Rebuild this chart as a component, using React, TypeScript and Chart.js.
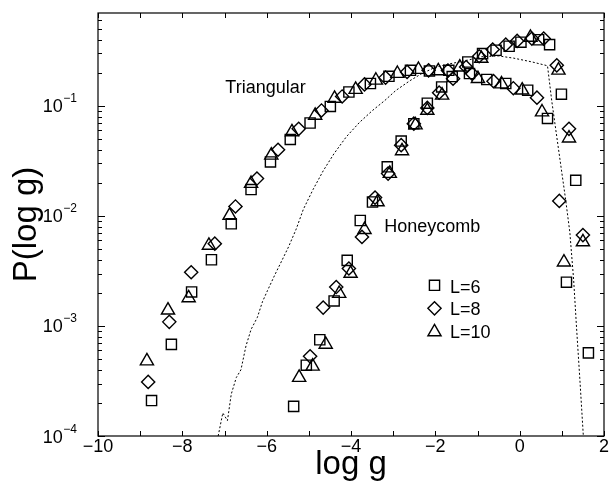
import React, { useEffect, useRef } from 'react';
import { Chart, registerables } from 'chart.js';

Chart.register(...registerables);

// ---------- data ----------
const X_TICKS = [-10, -8, -6, -4, -2, 0, 2];
const X_MINOR = [-10, -9, -8, -7, -6, -5, -4, -3, -2, -1, 0, 1, 2];
const Y_DECADES = [1e-4, 1e-3, 1e-2, 1e-1];
const Y_DECADE_EXP = ['−4', '−3', '−2', '−1'];
const Y_MIN = 1e-4;
const Y_MAX = 0.7;

// Triangular lattice
const TRI_L6_X = [-8.73, -8.26, -7.78, -7.31, -6.84, -6.37, -5.91, -5.44, -4.97, -4.49, -4.05, -3.54, -3.1, -2.59, -2.14, -1.68, -1.23, -0.88, -0.56, -0.25, 0.03, 0.45, 0.71, 0.99, 1.33, 1.63];
const TRI_L6_Y = [2.1e-4, 6.8e-4, 2.04e-3, 4.0e-3, 8.5e-3, 0.0174, 0.031, 0.0496, 0.07, 0.099, 0.134, 0.16, 0.186, 0.211, 0.208, 0.211, 0.251, 0.299, 0.321, 0.349, 0.38, 0.4, 0.361, 0.128, 0.0211, 5.7e-4];
const TRI_L8_X = [-8.81, -8.31, -7.79, -7.23, -6.74, -6.23, -5.73, -5.24, -4.7, -4.21, -3.68, -3.18, -2.67, -2.16, -1.7, -1.27, -0.96, -0.64, -0.33, -0.06, 0.29, 0.57, 0.88, 1.17, 1.5];
const TRI_L8_Y = [3.1e-4, 1.09e-3, 3.08e-3, 5.6e-3, 0.0122, 0.0219, 0.04, 0.062, 0.091, 0.122, 0.157, 0.181, 0.204, 0.211, 0.21, 0.226, 0.283, 0.326, 0.361, 0.39, 0.41, 0.41, 0.234, 0.062, 6.7e-3];
const TRI_L10_X = [-8.84, -8.34, -7.85, -7.37, -6.88, -6.37, -5.89, -5.4, -4.85, -4.39, -3.89, -3.41, -2.9, -2.4, -1.93, -1.42, -0.91, 0.255, 0.92, 1.17, 1.5];
const TRI_L10_Y = [4.8e-4, 1.39e-3, 1.8e-3, 5.4e-3, 0.0101, 0.0197, 0.0356, 0.058, 0.082, 0.117, 0.141, 0.171, 0.197, 0.214, 0.208, 0.225, 0.27, 0.419, 0.211, 0.051, 5.8e-3];

// Honeycomb lattice
const HON_L6_X = [-5.36, -5.06, -4.74, -4.4, -4.09, -3.78, -3.49, -3.14, -2.81, -2.51, -2.19, -1.85, -1.6, -1.19, -0.78, -0.33, 0.19, 0.66, 1.11];
const HON_L6_Y = [1.86e-4, 4.4e-4, 7.5e-4, 1.69e-3, 3.95e-3, 9.1e-3, 0.0134, 0.028, 0.048, 0.069, 0.106, 0.149, 0.185, 0.197, 0.174, 0.16, 0.139, 0.077, 2.5e-3];
const HON_L8_X = [-4.97, -4.66, -4.35, -4.05, -3.74, -3.43, -3.12, -2.81, -2.51, -2.19, -1.91, -1.58, -1.13, -0.62, -0.15, 0.41, 0.94];
const HON_L8_Y = [5.3e-4, 1.47e-3, 2.26e-3, 3.33e-3, 6.45e-3, 0.0147, 0.0243, 0.044, 0.069, 0.096, 0.132, 0.177, 0.197, 0.168, 0.145, 0.119, 0.0137];
const HON_L10_X = [-5.23, -4.91, -4.6, -4.28, -4.01, -3.68, -3.37, -3.08, -2.79, -2.47, -2.19, -1.84, -0.99, -0.43, 0.06, 0.53, 1.05];
const HON_L10_Y = [3.4e-4, 4.3e-4, 6.8e-4, 1.97e-3, 3.0e-3, 7.5e-3, 0.0134, 0.0243, 0.039, 0.067, 0.091, 0.125, 0.177, 0.158, 0.139, 0.088, 3.8e-3];

// dotted reference curve
const CURVE_X = [-7.15, -7.04, -6.93, -6.84, -6.72, -6.61, -6.49, -6.37, -6.22, -6.1, -5.98, -5.8, -5.63, -5.48, -5.3, -5.13, -4.9, -4.66, -4.4, -4.11, -3.8, -3.49, -3.2, -2.94, -2.6, -2.32, -2.01, -1.7, -1.3, -0.91, -0.5, -0.14, 0.3, 0.66, 0.76, 0.88, 0.99, 1.09, 1.19, 1.28, 1.35, 1.43, 1.51];
const CURVE_Y = [1.0e-4, 1.62e-4, 1.38e-4, 2.4e-4, 3.4e-4, 4.0e-4, 6.6e-4, 9.3e-4, 1.2e-3, 1.66e-3, 2.1e-3, 2.95e-3, 4.0e-3, 5.25e-3, 7.6e-3, 0.0115, 0.0174, 0.0257, 0.037, 0.0525, 0.0708, 0.091, 0.112, 0.138, 0.17, 0.197, 0.224, 0.24, 0.257, 0.28, 0.285, 0.272, 0.251, 0.232, 0.112, 0.0525, 0.0263, 0.0141, 7.1e-3, 2.63e-3, 9.5e-4, 3.16e-4, 1.0e-4];

const LEGEND_LABELS = ['L=6', 'L=8', 'L=10'];
const LATTICE_LABELS = ['Triangular', 'Honeycomb'];

const FONT = '"Liberation Sans", Arial, Helvetica, sans-serif';

const pts = (xs: number[], ys: number[]) => xs.map((x, i) => ({ x, y: ys[i] }));
const fmtX = (v: number) => (v < 0 ? '−' + Math.abs(v) : String(v));

type Shape = 'rect' | 'rectRot' | 'triangle';
const RADIUS: Record<Shape, number> = { rect: 7.2, rectRot: 6.6, triangle: 7.6 };

function markerSet(label: string, xs: number[], ys: number[], shape: Shape) {
  return {
    label,
    data: pts(xs, ys),
    showLine: false,
    pointStyle: shape,
    pointRadius: RADIUS[shape],
    pointHoverRadius: RADIUS[shape],
    pointBorderColor: '#000',
    pointBackgroundColor: 'rgba(0,0,0,0)',
    pointBorderWidth: 1.4,
    borderColor: '#000',
    backgroundColor: 'rgba(0,0,0,0)',
  };
}

function drawShape(ctx: CanvasRenderingContext2D, shape: Shape, x: number, y: number) {
  const r = RADIUS[shape];
  ctx.beginPath();
  if (shape === 'rect') {
    const s = r * Math.SQRT1_2;
    ctx.rect(x - s, y - s, 2 * s, 2 * s);
  } else if (shape === 'rectRot') {
    ctx.moveTo(x - r, y);
    ctx.lineTo(x, y - r);
    ctx.lineTo(x + r, y);
    ctx.lineTo(x, y + r);
    ctx.closePath();
  } else {
    for (let k = 0; k < 3; k++) {
      const a = (k * 2 * Math.PI) / 3;
      const px = x + Math.sin(a) * r;
      const py = y - Math.cos(a) * r;
      if (k === 0) ctx.moveTo(px, py);
      else ctx.lineTo(px, py);
    }
    ctx.closePath();
  }
  ctx.stroke();
}

const framePlugin = {
  id: 'frameAndText',
  afterDraw(chart: any) {
    const { ctx, chartArea: a, scales } = chart;
    const xs = scales.x;
    const ys = scales.y;
    ctx.save();
    ctx.strokeStyle = '#000';
    ctx.fillStyle = '#000';
    ctx.lineWidth = 1.2;
    ctx.strokeRect(a.left, a.top, a.right - a.left, a.bottom - a.top);

    // x ticks (inward, bottom and top)
    ctx.lineWidth = 1;
    ctx.beginPath();
    for (const v of X_MINOR) {
      const px = Math.round(xs.getPixelForValue(v)) + 0.5;
      const len = 5;
      ctx.moveTo(px, a.bottom);
      ctx.lineTo(px, a.bottom - len);
      ctx.moveTo(px, a.top);
      ctx.lineTo(px, a.top + len);
    }
    // y ticks (log, inward, left and right)
    for (const d of Y_DECADES) {
      for (let m = 1; m <= 9; m++) {
        const v = m * d;
        if (v < Y_MIN || v > Y_MAX) continue;
        const py = Math.round(ys.getPixelForValue(v)) + 0.5;
        const len = m === 1 ? 7 : 4;
        ctx.moveTo(a.left, py);
        ctx.lineTo(a.left + len, py);
        ctx.moveTo(a.right, py);
        ctx.lineTo(a.right - len, py);
      }
    }
    ctx.stroke();

    // x tick labels
    ctx.textBaseline = 'alphabetic';
    ctx.textAlign = 'center';
    ctx.font = `18px ${FONT}`;
    for (const v of X_TICKS) {
      ctx.fillText(fmtX(v), xs.getPixelForValue(v), a.bottom + 16);
    }

    // y tick labels 10^n
    ctx.textAlign = 'right';
    const rightEdge = a.left - 21;
    Y_DECADES.forEach((d, i) => {
      const py = ys.getPixelForValue(d);
      ctx.font = `12px ${FONT}`;
      const supW = ctx.measureText(Y_DECADE_EXP[i]).width;
      ctx.fillText(Y_DECADE_EXP[i], rightEdge, py - 3.5);
      ctx.font = `18px ${FONT}`;
      ctx.fillText('10', rightEdge - supW - 0.5, py + 6.5);
    });

    // lattice labels
    ctx.textAlign = 'left';
    ctx.font = `18px ${FONT}`;
    ctx.fillText(LATTICE_LABELS[0], xs.getPixelForValue(-6.98), ys.getPixelForValue(0.132));
    ctx.fillText(LATTICE_LABELS[1], xs.getPixelForValue(-3.21), ys.getPixelForValue(0.0072));

    // legend
    const shapes: Shape[] = ['rect', 'rectRot', 'triangle'];
    const lx = 434.5;
    const rows = [285.3, 308.3, 332];
    const base = [292.5, 315, 337.5];
    ctx.lineWidth = 1.4;
    shapes.forEach((s, i) => {
      drawShape(ctx, s, lx, rows[i]);
      ctx.fillText(LEGEND_LABELS[i], 450, base[i]);
    });
    ctx.restore();
  },
};

export default function App() {
  const ref = useRef<HTMLCanvasElement | null>(null);

  useEffect(() => {
    if (!ref.current) return;
    const chart = new Chart(ref.current, {
      type: 'scatter',
      data: {
        datasets: [
          markerSet('Triangular L=6', TRI_L6_X, TRI_L6_Y, 'rect'),
          markerSet('Triangular L=8', TRI_L8_X, TRI_L8_Y, 'rectRot'),
          markerSet('Triangular L=10', TRI_L10_X, TRI_L10_Y, 'triangle'),
          markerSet('Honeycomb L=6', HON_L6_X, HON_L6_Y, 'rect'),
          markerSet('Honeycomb L=8', HON_L8_X, HON_L8_Y, 'rectRot'),
          markerSet('Honeycomb L=10', HON_L10_X, HON_L10_Y, 'triangle'),
          {
            label: 'curve',
            data: pts(CURVE_X, CURVE_Y),
            showLine: true,
            borderColor: '#000',
            borderWidth: 1,
            borderDash: [2, 2],
            pointRadius: 0,
            pointHoverRadius: 0,
            fill: false,
            tension: 0,
          } as any,
        ],
      },
      options: {
        animation: false,
        responsive: false,
        events: [],
        layout: { padding: { left: 0, right: 2, top: 13, bottom: 0 } },
        plugins: {
          legend: { display: false },
          tooltip: { enabled: false },
        },
        scales: {
          x: {
            type: 'linear',
            min: -10,
            max: 2,
            grid: { display: false, drawTicks: false },
            border: { display: false },
            ticks: { display: false },
            afterBuildTicks: (s: any) => {
              s.ticks = X_TICKS.map((v) => ({ value: v }));
            },
            afterFit: (s: any) => {
              s.height = 55;
              s.paddingLeft = 0;
              s.paddingRight = 0;
            },
            title: {
              display: true,
              text: 'log g',
              color: '#000',
              font: { family: FONT, size: 33 },
              padding: { top: 0, bottom: 6.5 },
            },
          },
          y: {
            type: 'logarithmic',
            min: Y_MIN,
            max: Y_MAX,
            grid: { display: false, drawTicks: false },
            border: { display: false },
            ticks: { display: false },
            afterBuildTicks: (s: any) => {
              s.ticks = Y_DECADES.map((v) => ({ value: v }));
            },
            afterFit: (s: any) => {
              s.width = 98;
              s.paddingTop = 0;
              s.paddingBottom = 0;
            },
            title: {
              display: true,
              text: 'P(log g)',
              color: '#000',
              font: { family: FONT, size: 33 },
              padding: { top: 7.5, bottom: 0 },
            },
          },
        },
      },
      plugins: [framePlugin],
    } as any);
    return () => chart.destroy();
  }, []);

  return (
    <div style={{ position: 'absolute', left: 0, top: 0, width: 613, height: 491, background: '#fff' }}>
      <canvas ref={ref} width={613} height={491} style={{ width: 613, height: 491, display: 'block' }} />
    </div>
  );
}
